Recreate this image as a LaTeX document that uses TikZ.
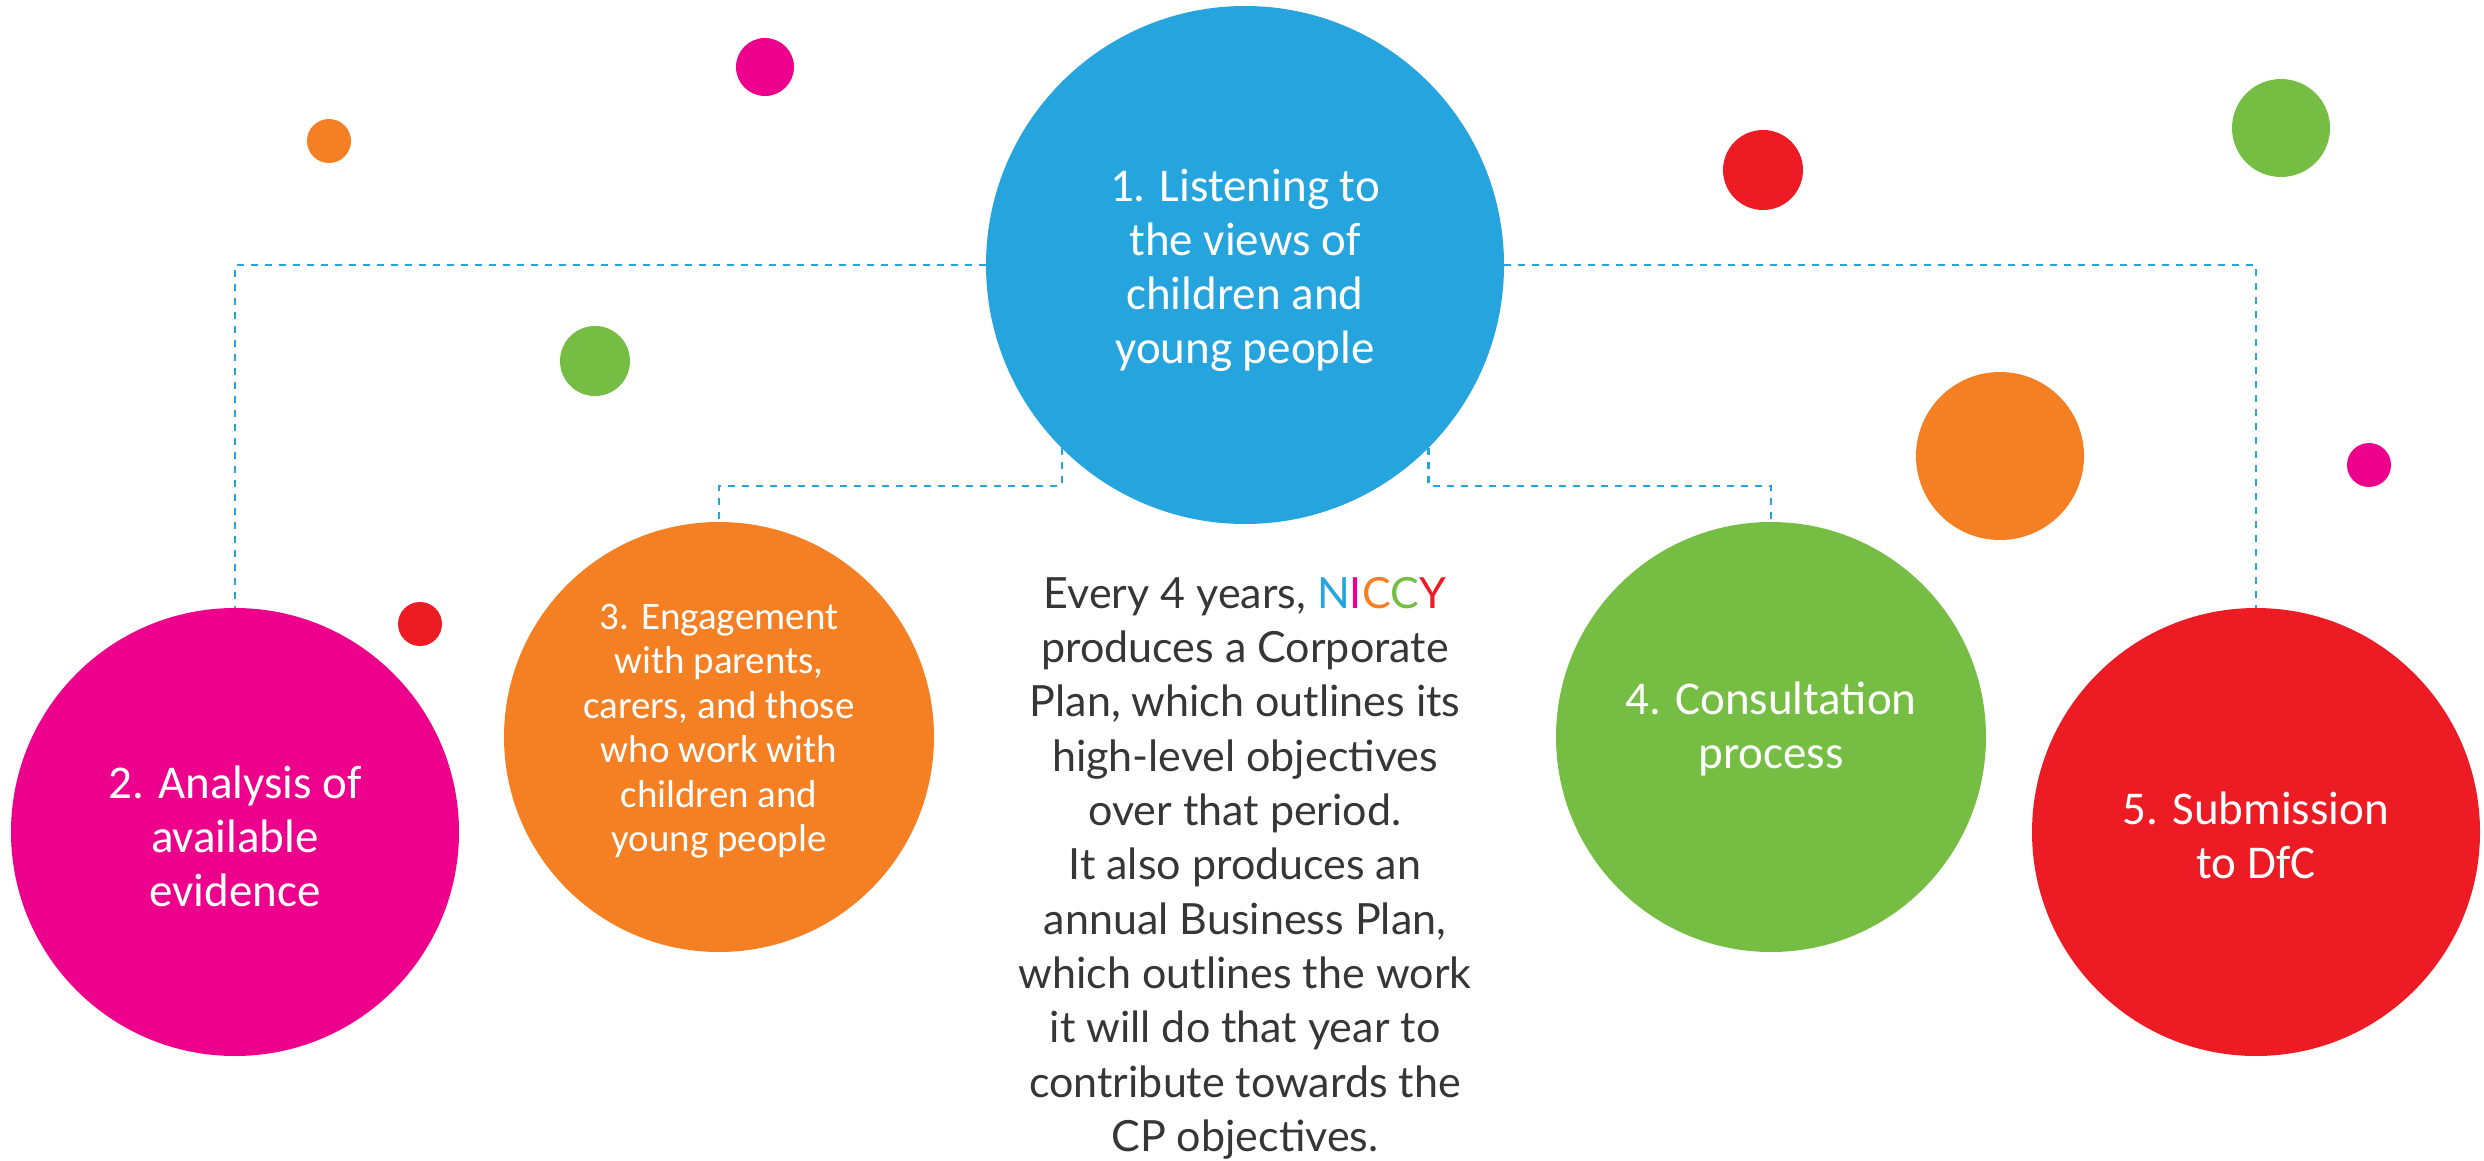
\documentclass[tikz,border=0pt]{standalone}
\usepackage{fontspec}
\setmainfont{Carlito}
\newfontfamily\bodyfont{Lato}
\definecolor{cblue}{HTML}{25A4DD}
\definecolor{cpink}{HTML}{EC008C}
\definecolor{corange}{HTML}{F58024}
\definecolor{cgreen}{HTML}{76BE43}
\definecolor{cred}{HTML}{ED1C24}
\definecolor{ctext}{HTML}{363636}
\tikzset{
  bigc/.style={circle, inner sep=0pt},
  ctxt/.style={inner sep=0pt, align=center, text=white},
  dotc/.style={circle, inner sep=0pt},
  link/.style={draw=cblue, line width=2.4pt, dash pattern=on 7pt off 7pt},
  bigfont/.style={font=\fontsize{47}{54}\selectfont},
  midfont/.style={font=\fontsize{39}{44.5}\selectfont},
}
\begin{document}
\begin{tikzpicture}[x=1pt,y=-1pt]
\useasboundingbox (0,0) rectangle (2484,1161);
% small decorative dots
\node[dotc, fill=corange, minimum size=44pt] (d1) at (329,141) {};
\node[dotc, fill=cpink, minimum size=58pt] (d2) at (765,67) {};
\node[dotc, fill=cgreen, minimum size=70pt] (d3) at (595,361) {};
\node[dotc, fill=cred, minimum size=44pt] (d4) at (420,624) {};
\node[dotc, fill=cred, minimum size=80pt] (d5) at (1763,170) {};
\node[dotc, fill=cgreen, minimum size=98pt] (d6) at (2281,128) {};
\node[dotc, fill=corange, minimum size=168pt] (d7) at (2000,456) {};
\node[dotc, fill=cpink, minimum size=44pt] (d8) at (2369,465) {};
% main circles
\node[bigc, fill=cblue, minimum size=518pt] (blue) at (1245,265) {};
\node[bigc, fill=cpink, minimum size=448pt] (pink) at (235,832) {};
\node[bigc, fill=corange, minimum size=430pt] (orange) at (719,737) {};
\node[bigc, fill=cgreen, minimum size=430pt] (green) at (1771,737) {};
\node[bigc, fill=cred, minimum size=448pt] (red) at (2256,832) {};
% circle texts
\node[ctxt, bigfont, yshift=-5.5pt] (bluet) at (blue.center)
  {1. Listening to\\the views of\\children and\\young people};
\node[ctxt, bigfont, yshift=-4pt] (pinkt) at (pink.center)
  {2. Analysis of\\available\\evidence};
\node[ctxt, midfont, yshift=6pt] (oranget) at (orange.center)
  {3. Engagement\\with parents,\\carers, and those\\who work with\\children and\\young people};
\node[ctxt, bigfont, yshift=8pt] (greent) at (green.center)
  {4. Consultation\\process};
\node[ctxt, bigfont, yshift=-3pt] (redt) at (red.center)
  {5. Submission\\to DfC};
% connectors
\coordinate (jl) at (719,486);
\coordinate (jr) at (1771,486);
\draw[link] (blue.west) -| (pink.north);
\draw[link] (blue.east) -| (red.north);
\draw[link] (blue.225) |- (jl) -- (orange.north);
\draw[link] (blue.315) |- (jr) -- (green.north);
% body text
\node[anchor=north, inner sep=0pt, align=center, text=ctext,
  font=\bodyfont\fontsize{43}{54.3}\selectfont] (body) at (1245,577)
  {Every 4 years, {\color{cblue}N}{\color{cpink}I}{\color{corange}C}{\color{cgreen}C}{\color{cred}Y}\\
   produces a Corporate\\
   Plan, which outlines its\\
   high-level objectives\\
   over that period.\\
   It also produces an\\
   annual Business Plan,\\
   which outlines the work\\
   it will do that year to\\
   contribute towards the\\
   CP objectives.};
\end{tikzpicture}
\end{document}
